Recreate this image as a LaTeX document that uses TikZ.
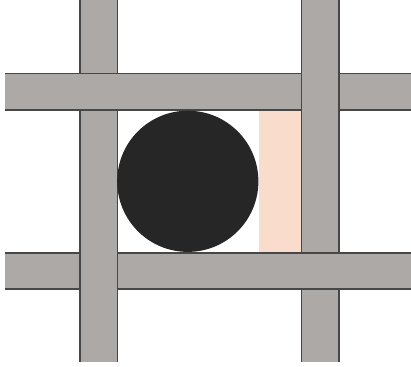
\documentclass[tikz,border=0pt]{standalone}
\usepackage{tikz}
\usetikzlibrary{calc}

\definecolor{barfill}{HTML}{ADA9A7}
\definecolor{baredge}{HTML}{474747}
\definecolor{ballfill}{HTML}{262626}
\definecolor{peach}{HTML}{F9DCCB}

\begin{document}
\begin{tikzpicture}[
   x=1pt, y=-1pt,
   barbody/.style={fill=barfill,draw=none},
   baredges/.style={draw=baredge,line width=1.3pt},
   ]
\useasboundingbox (0,0) rectangle (411,366);
%% left post
\fill[barbody] (80,0) rectangle (117.5,361.5);
\draw[baredges] (80,0) -- (80,361.5) (117.5,0) -- (117.5,361.5);
%% top rail (over left post)
\fill[barbody] (5,73.5) rectangle (411,110);
\draw[baredges] (5,73.5) -- (411,73.5) (5,110) -- (411,110);
%% right post (over top rail)
\fill[barbody] (301.5,0) rectangle (339,361.5);
\draw[baredges] (301.5,0) -- (301.5,361.5) (339,0) -- (339,361.5);
%% bottom rail (over right post)
\fill[barbody] (5,253) rectangle (411,289);
\draw[baredges] (5,253) -- (411,253) (5,289) -- (411,289);
%% left post again, over bottom rail
\begin{scope}
  \clip (70,240) rectangle (130,300);
  \fill[barbody] (80,0) rectangle (117.5,361.5);
  \draw[baredges] (80,0) -- (80,361.5) (117.5,0) -- (117.5,361.5);
\end{scope}
%% gap beside the ball
\fill[peach] (258.5,110.6) rectangle (300.8,252.4);
%% ball
\fill[ballfill] (187.8,181.3) circle (70.6);
\end{tikzpicture}
\end{document}
